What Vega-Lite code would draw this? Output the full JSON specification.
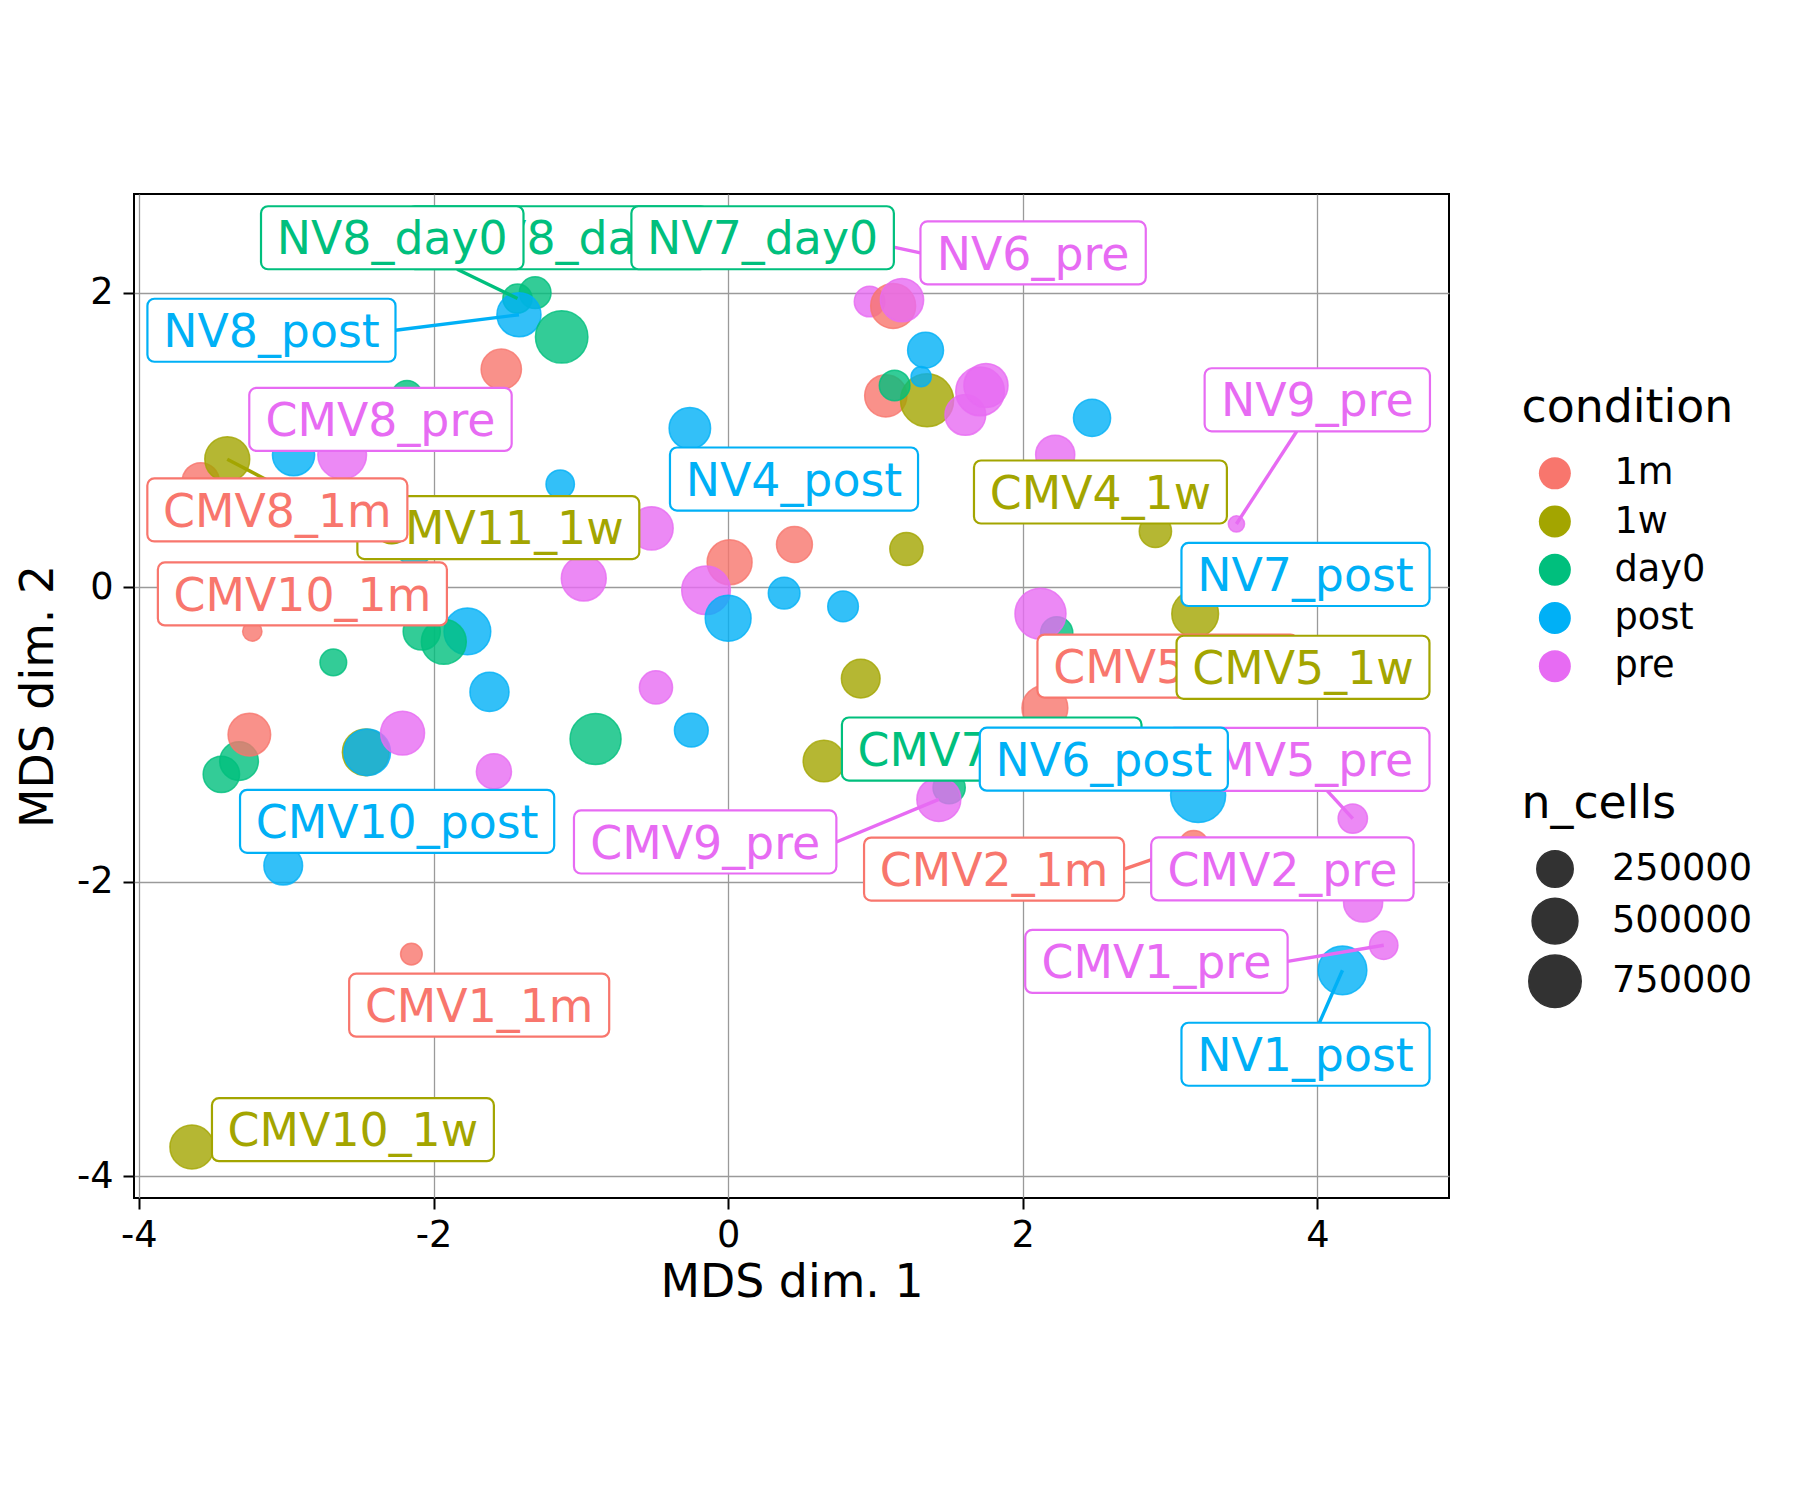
{
  "$schema": "https://vega.github.io/schema/vega-lite/v6.json",
  "width": 1315,
  "height": 1004,
  "autosize": {"type": "none"},
  "padding": {"left": 134, "top": 194, "right": 351, "bottom": 302},
  "background": "white",
  "config": {
    "font": "DejaVu Sans",
    "view": {"stroke": "black", "strokeWidth": 2},
    "axis": {
      "grid": true, "gridColor": "#9a9a9a", "gridWidth": 1.3, "domain": false,
      "tickColor": "black", "tickWidth": 2, "tickSize": 11,
      "labelFont": "DejaVu Sans", "labelFontSize": 36.7, "labelColor": "black",
      "titleFont": "DejaVu Sans", "titleFontSize": 45.8, "titleFontWeight": "normal", "titleColor": "black"
    },
    "legend": {
      "labelFont": "DejaVu Sans", "titleFont": "DejaVu Sans",
      "labelFontSize": 36.7, "labelColor": "black",
      "titleFontSize": 45.8, "titleFontWeight": "normal", "titleColor": "black",
      "titleLimit": 600, "labelLimit": 600,
      "padding": 0
    }
  },
  "datasets": {
    "points": [
      {"condition": "day0", "x": -1.31, "y": 2.00, "n_cells": 167000},
      {"condition": "day0", "x": -1.43, "y": 1.96, "n_cells": 130000},
      {"condition": "post", "x": -1.42, "y": 1.85, "n_cells": 445000},
      {"condition": "day0", "x": -1.13, "y": 1.70, "n_cells": 750000},
      {"condition": "1m", "x": -1.54, "y": 1.48, "n_cells": 340000},
      {"condition": "day0", "x": -2.18, "y": 1.30, "n_cells": 150000},
      {"condition": "post", "x": -2.95, "y": 0.90, "n_cells": 390000},
      {"condition": "pre", "x": -2.62, "y": 0.90, "n_cells": 600000},
      {"condition": "1m", "x": -3.58, "y": 0.72, "n_cells": 265000},
      {"condition": "1w", "x": -3.40, "y": 0.87, "n_cells": 470000},
      {"condition": "post", "x": -1.14, "y": 0.70, "n_cells": 120000},
      {"condition": "post", "x": -2.13, "y": 0.27, "n_cells": 250000},
      {"condition": "pre", "x": -0.52, "y": 0.40, "n_cells": 420000},
      {"condition": "pre", "x": -0.98, "y": 0.06, "n_cells": 470000},
      {"condition": "1m", "x": 0.01, "y": 0.17, "n_cells": 470000},
      {"condition": "1m", "x": 0.45, "y": 0.29, "n_cells": 240000},
      {"condition": "pre", "x": -0.15, "y": -0.02, "n_cells": 600000},
      {"condition": "post", "x": 0.00, "y": -0.21, "n_cells": 500000},
      {"condition": "post", "x": 0.38, "y": -0.04, "n_cells": 165000},
      {"condition": "post", "x": 0.78, "y": -0.13, "n_cells": 150000},
      {"condition": "1w", "x": 1.21, "y": 0.26, "n_cells": 190000},
      {"condition": "post", "x": -0.26, "y": 1.08, "n_cells": 370000},
      {"condition": "1m", "x": -3.23, "y": -0.30, "n_cells": 40000},
      {"condition": "day0", "x": -2.68, "y": -0.51, "n_cells": 100000},
      {"condition": "post", "x": -1.77, "y": -0.30, "n_cells": 530000},
      {"condition": "day0", "x": -2.08, "y": -0.30, "n_cells": 265000},
      {"condition": "day0", "x": -1.93, "y": -0.37, "n_cells": 470000},
      {"condition": "post", "x": -1.62, "y": -0.71, "n_cells": 310000},
      {"condition": "pre", "x": -0.49, "y": -0.68, "n_cells": 190000},
      {"condition": "1w", "x": 0.90, "y": -0.62, "n_cells": 300000},
      {"condition": "day0", "x": -0.90, "y": -1.03, "n_cells": 690000},
      {"condition": "post", "x": -0.25, "y": -0.97, "n_cells": 200000},
      {"condition": "day0", "x": -3.44, "y": -1.27, "n_cells": 250000},
      {"condition": "day0", "x": -3.32, "y": -1.18, "n_cells": 300000},
      {"condition": "1m", "x": -3.25, "y": -1.00, "n_cells": 400000},
      {"condition": "1w", "x": -2.46, "y": -1.12, "n_cells": 530000},
      {"condition": "post", "x": -2.45, "y": -1.12, "n_cells": 530000},
      {"condition": "pre", "x": -2.21, "y": -0.99, "n_cells": 440000},
      {"condition": "pre", "x": -1.59, "y": -1.25, "n_cells": 225000},
      {"condition": "1w", "x": 0.65, "y": -1.18, "n_cells": 370000},
      {"condition": "day0", "x": 1.50, "y": -1.36, "n_cells": 175000},
      {"condition": "pre", "x": 1.43, "y": -1.44, "n_cells": 440000},
      {"condition": "post", "x": -3.02, "y": -1.89, "n_cells": 300000},
      {"condition": "1m", "x": -2.15, "y": -2.49, "n_cells": 55000},
      {"condition": "1w", "x": -3.64, "y": -3.80, "n_cells": 440000},
      {"condition": "pre", "x": 0.96, "y": 1.94, "n_cells": 150000},
      {"condition": "1m", "x": 1.12, "y": 1.91, "n_cells": 470000},
      {"condition": "pre", "x": 1.18, "y": 1.95, "n_cells": 420000},
      {"condition": "post", "x": 1.34, "y": 1.61, "n_cells": 240000},
      {"condition": "1m", "x": 1.07, "y": 1.30, "n_cells": 390000},
      {"condition": "1w", "x": 1.35, "y": 1.27, "n_cells": 780000},
      {"condition": "day0", "x": 1.13, "y": 1.37, "n_cells": 150000},
      {"condition": "post", "x": 1.31, "y": 1.43, "n_cells": 45000},
      {"condition": "pre", "x": 1.61, "y": 1.17, "n_cells": 350000},
      {"condition": "pre", "x": 1.71, "y": 1.33, "n_cells": 600000},
      {"condition": "pre", "x": 1.75, "y": 1.37, "n_cells": 445000},
      {"condition": "post", "x": 2.47, "y": 1.15, "n_cells": 265000},
      {"condition": "pre", "x": 2.22, "y": 0.90, "n_cells": 310000},
      {"condition": "1w", "x": 2.90, "y": 0.38, "n_cells": 175000},
      {"condition": "pre", "x": 3.45, "y": 0.43, "n_cells": 25000},
      {"condition": "1w", "x": 3.17, "y": -0.18, "n_cells": 530000},
      {"condition": "day0", "x": 2.23, "y": -0.31, "n_cells": 175000},
      {"condition": "pre", "x": 2.12, "y": -0.18, "n_cells": 690000},
      {"condition": "1m", "x": 2.15, "y": -0.82, "n_cells": 500000},
      {"condition": "post", "x": 3.19, "y": -1.41, "n_cells": 870000},
      {"condition": "1m", "x": 3.16, "y": -1.75, "n_cells": 130000},
      {"condition": "pre", "x": 4.24, "y": -1.57, "n_cells": 132000},
      {"condition": "pre", "x": 4.31, "y": -2.14, "n_cells": 310000},
      {"condition": "pre", "x": 4.45, "y": -2.43, "n_cells": 120000},
      {"condition": "post", "x": 4.17, "y": -2.60, "n_cells": 600000},
      {"condition": "pre", "x": 0.98, "y": 2.34, "n_cells": 150000}
    ],
    "labels": [
      {"label": "CMV8_day0", "condition": "day0", "lx": -1.157, "ly": 2.373, "px": null, "py": null},
      {"label": "CMV11_1w", "condition": "1w", "lx": -1.56, "ly": 0.405, "px": -3.40, "py": 0.87},
      {"label": "CMV5_1m", "condition": "1m", "lx": 2.982, "ly": -0.535, "px": null, "py": null},
      {"label": "CMV7_day0", "condition": "day0", "lx": 1.789, "ly": -1.098, "px": null, "py": null},
      {"label": "CMV5_pre", "condition": "pre", "lx": 3.870, "ly": -1.168, "px": 4.24, "py": -1.57},
      {"label": "NV8_day0", "condition": "day0", "lx": -2.28, "ly": 2.373, "px": -1.43, "py": 1.96},
      {"label": "NV7_day0", "condition": "day0", "lx": 0.234, "ly": 2.373, "px": null, "py": null},
      {"label": "NV6_pre", "condition": "pre", "lx": 2.07, "ly": 2.27, "px": 0.98, "py": 2.34},
      {"label": "NV8_post", "condition": "post", "lx": -3.10, "ly": 1.745, "px": -1.42, "py": 1.85},
      {"label": "CMV8_pre", "condition": "pre", "lx": -2.36, "ly": 1.14, "px": null, "py": null},
      {"label": "NV9_pre", "condition": "pre", "lx": 3.999, "ly": 1.273, "px": 3.45, "py": 0.43},
      {"label": "NV4_post", "condition": "post", "lx": 0.447, "ly": 0.735, "px": null, "py": null},
      {"label": "CMV4_1w", "condition": "1w", "lx": 2.527, "ly": 0.647, "px": null, "py": null},
      {"label": "CMV8_1m", "condition": "1m", "lx": -3.06, "ly": 0.525, "px": null, "py": null},
      {"label": "NV7_post", "condition": "post", "lx": 3.919, "ly": 0.087, "px": null, "py": null},
      {"label": "CMV10_1m", "condition": "1m", "lx": -2.89, "ly": -0.045, "px": null, "py": null},
      {"label": "CMV5_1w", "condition": "1w", "lx": 3.902, "ly": -0.543, "px": null, "py": null},
      {"label": "NV6_post", "condition": "post", "lx": 2.55, "ly": -1.167, "px": null, "py": null},
      {"label": "CMV10_post", "condition": "post", "lx": -2.247, "ly": -1.589, "px": null, "py": null},
      {"label": "CMV9_pre", "condition": "pre", "lx": -0.156, "ly": -1.729, "px": 1.43, "py": -1.44},
      {"label": "CMV2_1m", "condition": "1m", "lx": 1.805, "ly": -1.913, "px": 3.16, "py": -1.75},
      {"label": "CMV2_pre", "condition": "pre", "lx": 3.762, "ly": -1.912, "px": null, "py": null},
      {"label": "CMV1_pre", "condition": "pre", "lx": 2.907, "ly": -2.540, "px": 4.45, "py": -2.43},
      {"label": "CMV1_1m", "condition": "1m", "lx": -1.690, "ly": -2.837, "px": null, "py": null},
      {"label": "NV1_post", "condition": "post", "lx": 3.919, "ly": -3.170, "px": 4.17, "py": -2.60},
      {"label": "CMV10_1w", "condition": "1w", "lx": -2.547, "ly": -3.682, "px": null, "py": null}
    ]
  },
  "layer": [
    {
      "data": {"name": "points"},
      "mark": {"type": "point", "shape": "circle", "filled": true, "fillOpacity": 0.8, "strokeOpacity": 0.8, "strokeWidth": 1.5},
      "encoding": {
        "x": {"field": "x", "type": "quantitative", "title": "MDS dim. 1",
              "scale": {"domain": [-4.033, 4.893], "nice": false, "zero": false},
              "axis": {"values": [-4, -2, 0, 2, 4], "labelExpr": "'' + datum.value", "labelPadding": 8, "titlePadding": 7}},
        "y": {"field": "y", "type": "quantitative", "title": "MDS dim. 2",
              "scale": {"domain": [-4.146, 2.670], "nice": false, "zero": false},
              "axis": {"values": [-4, -2, 0, 2], "labelExpr": "'' + datum.value", "labelPadding": 10, "titlePadding": 14}},
        "color": {"field": "condition", "type": "nominal",
                  "scale": {"domain": ["1m", "1w", "day0", "post", "pre"], "range": ["#F8766D", "#A3A500", "#00BF7D", "#00B0F6", "#E76BF3"]},
                  "legend": {"title": "condition", "orient": "none", "legendX": 1387.5, "legendY": 192.3,
                             "titlePadding": 22.9, "symbolType": "circle", "symbolSize": 1024, "symbolStrokeWidth": 0,
                             "symbolOpacity": 1, "rowPadding": 10.2, "symbolOffset": 15, "labelOffset": 41.3}},
        "stroke": {"field": "condition", "type": "nominal",
                   "scale": {"domain": ["1m", "1w", "day0", "post", "pre"], "range": ["#F8766D", "#A3A500", "#00BF7D", "#00B0F6", "#E76BF3"]},
                   "legend": null},
        "size": {"field": "n_cells", "type": "quantitative",
                 "scale": {"type": "pow", "exponent": 0.65, "zero": false, "domain": [10000, 880000], "range": [127, 3056]},
                 "legend": {"title": "n_cells", "values": [250000, 500000, 750000], "format": "d",
                            "orient": "none", "legendX": 1387.5, "legendY": 587.8, "titlePadding": 22.4,
                            "symbolType": "circle", "symbolFillColor": "#000000", "symbolStrokeColor": "#000000",
                            "symbolStrokeWidth": 1.5, "symbolOpacity": 0.8, "rowPadding": 4.1,
                            "symbolOffset": 6.5, "labelOffset": 30}}
      }
    },
    {
      "data": {"name": "labels"},
      "transform": [
        {"calculate": "0.636*length(datum.label) + 0.062*(length(split(datum.label,'C'))-1) + 0.227*(length(split(datum.label,'M'))-1) + 0.048*(length(split(datum.label,'V'))-1) + 0.112*(length(split(datum.label,'N'))-1) - 0.136*(length(split(datum.label,'_'))-1) - 0.115*(length(split(datum.label,'s'))-1) - 0.244*(length(split(datum.label,'t'))-1) - 0.225*(length(split(datum.label,'r'))-1) - 0.021*(length(split(datum.label,'e'))-1) - 0.024*(length(split(datum.label,'o'))-1) - 0.023*(length(split(datum.label,'a'))-1) - 0.044*(length(split(datum.label,'y'))-1) + 0.338*(length(split(datum.label,'m'))-1) + 0.182*(length(split(datum.label,'w'))-1)", "as": "em"},
        {"calculate": "(45.6*datum.em + 32.4)/294.6", "as": "hw"},
        {"calculate": "datum.lx - datum.hw", "as": "x1"},
        {"calculate": "datum.lx + datum.hw", "as": "x2"},
        {"calculate": "datum.ly - 0.2139", "as": "y1"},
        {"calculate": "datum.ly + 0.2139", "as": "y2"},
        {"calculate": "indexof(['CMV8_day0','CMV11_1w','CMV5_1m','CMV7_day0','CMV5_pre'], datum.label) >= 0 ? 'back' : 'front'", "as": "tier"}
      ],
      "layer": [
        {
          "transform": [
            {"filter": "isValid(datum.px)"},
            {"calculate": "datum.px < datum.x1 || datum.px > datum.x2", "as": "side"},
            {"calculate": "datum.side ? datum.ly : (datum.py > datum.ly ? datum.y2 : datum.y1)", "as": "ey"},
            {"calculate": "datum.side ? (datum.px < datum.x1 ? datum.x1 : datum.x2) : datum.lx + (datum.px - datum.lx) * (datum.ey - datum.ly) / (datum.py - datum.ly)", "as": "ex"}
          ],
          "mark": {"type": "rule", "strokeWidth": 3.4},
          "encoding": {
            "x": {"field": "px", "type": "quantitative", "title": "MDS dim. 1", "scale": {"domain": [-4.033, 4.893], "nice": false, "zero": false}},
            "y": {"field": "py", "type": "quantitative", "title": "MDS dim. 2", "scale": {"domain": [-4.146, 2.670], "nice": false, "zero": false}},
            "x2": {"field": "ex"},
            "y2": {"field": "ey"},
            "stroke": {"field": "condition", "type": "nominal", "legend": null}
          }
        },
        {
          "transform": [{"filter": "datum.tier == 'back'"}],
          "mark": {"type": "rect", "fill": "white", "strokeWidth": 2.2, "cornerRadius": 7},
          "encoding": {
            "x": {"field": "x1", "type": "quantitative", "title": "MDS dim. 1", "scale": {"domain": [-4.033, 4.893], "nice": false, "zero": false}},
            "x2": {"field": "x2"},
            "y": {"field": "y1", "type": "quantitative", "title": "MDS dim. 2", "scale": {"domain": [-4.146, 2.670], "nice": false, "zero": false}},
            "y2": {"field": "y2"},
            "stroke": {"field": "condition", "type": "nominal", "legend": null}
          }
        },
        {
          "transform": [{"filter": "datum.tier == 'back'"}],
          "mark": {"type": "text", "fontSize": 45.8, "font": "DejaVu Sans", "align": "center", "baseline": "alphabetic", "dy": 16.7},
          "encoding": {
            "x": {"field": "lx", "type": "quantitative", "title": "MDS dim. 1", "scale": {"domain": [-4.033, 4.893], "nice": false, "zero": false}},
            "y": {"field": "ly", "type": "quantitative", "title": "MDS dim. 2", "scale": {"domain": [-4.146, 2.670], "nice": false, "zero": false}},
            "text": {"field": "label"},
            "fill": {"field": "condition", "type": "nominal",
                     "scale": {"domain": ["1m", "1w", "day0", "post", "pre"], "range": ["#F8766D", "#A3A500", "#00BF7D", "#00B0F6", "#E76BF3"]},
                     "legend": null}
          }
        },
        {
          "transform": [{"filter": "datum.tier == 'front'"}],
          "mark": {"type": "rect", "fill": "white", "strokeWidth": 2.2, "cornerRadius": 7},
          "encoding": {
            "x": {"field": "x1", "type": "quantitative", "title": "MDS dim. 1", "scale": {"domain": [-4.033, 4.893], "nice": false, "zero": false}},
            "x2": {"field": "x2"},
            "y": {"field": "y1", "type": "quantitative", "title": "MDS dim. 2", "scale": {"domain": [-4.146, 2.670], "nice": false, "zero": false}},
            "y2": {"field": "y2"},
            "stroke": {"field": "condition", "type": "nominal", "legend": null}
          }
        },
        {
          "transform": [{"filter": "datum.tier == 'front'"}],
          "mark": {"type": "text", "fontSize": 45.8, "font": "DejaVu Sans", "align": "center", "baseline": "alphabetic", "dy": 16.7},
          "encoding": {
            "x": {"field": "lx", "type": "quantitative", "title": "MDS dim. 1", "scale": {"domain": [-4.033, 4.893], "nice": false, "zero": false}},
            "y": {"field": "ly", "type": "quantitative", "title": "MDS dim. 2", "scale": {"domain": [-4.146, 2.670], "nice": false, "zero": false}},
            "text": {"field": "label"},
            "fill": {"field": "condition", "type": "nominal", "legend": null}
          }
        }
      ]
    }
  ]
}
